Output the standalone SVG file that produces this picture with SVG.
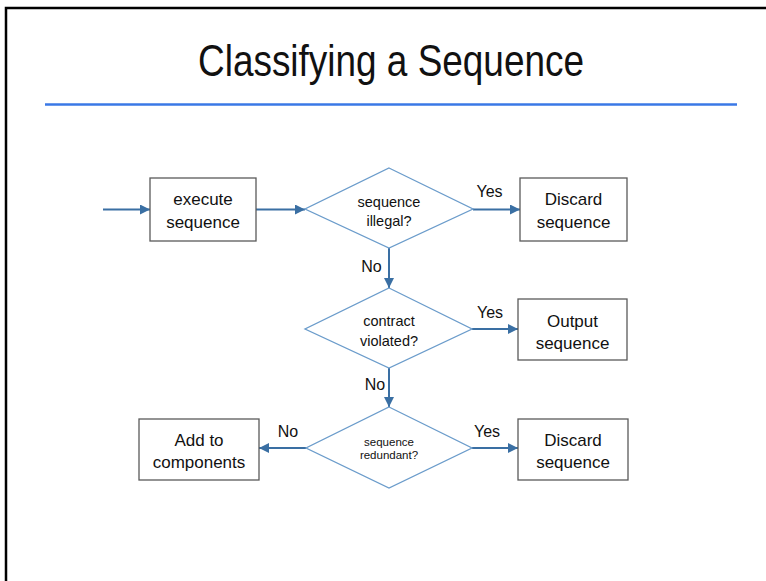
<svg xmlns="http://www.w3.org/2000/svg" width="766" height="581" viewBox="0 0 766 581">
<defs>
<style>
.box{fill:#fff;stroke:#5a5a5a;stroke-width:1.3}
.dia{fill:#fff;stroke:#6b9ccb;stroke-width:1.3}
.t{font-family:"Liberation Sans",Arial,sans-serif;fill:#111;text-anchor:middle}
.bt{font-size:17px}
.dt{font-size:14.5px}
.st{font-size:11.5px}
.lbl{font-family:"Liberation Sans",Arial,sans-serif;font-size:16px;fill:#111;text-anchor:middle}
.con{stroke:#3a6fa3;stroke-width:2;fill:none;marker-end:url(#ah)}
</style>
<marker id="ah" viewBox="0 0 10 10" refX="10" refY="5" markerUnits="userSpaceOnUse" markerWidth="11" markerHeight="10" orient="auto">
<path d="M0,0 L10,5 L0,10 z" fill="#3a6fa3"/>
</marker>
</defs>
<rect x="0" y="0" width="766" height="581" fill="#fff"/>
<rect x="6" y="8" width="800" height="620" fill="none" stroke="#000" stroke-width="2.5"/>
<text x="391" y="76" font-family="Liberation Sans,Arial,sans-serif" font-size="44" fill="#111" text-anchor="middle" textLength="386" lengthAdjust="spacingAndGlyphs">Classifying a Sequence</text>
<line x1="45" y1="104.5" x2="737" y2="104.5" stroke="#3a78e6" stroke-width="2.5"/>

<g id="connectors">
<line class="con" x1="103" y1="209.5" x2="150" y2="209.5"/>
<line class="con" x1="256" y1="209.5" x2="305" y2="209.5"/>
<line class="con" x1="473" y1="209.5" x2="520" y2="209.5"/>
<line class="con" x1="389" y1="248" x2="389" y2="288"/>
<line class="con" x1="472" y1="329" x2="518" y2="329"/>
<line class="con" x1="389" y1="368" x2="389" y2="407"/>
<line class="con" x1="472" y1="448" x2="518" y2="448"/>
<line class="con" x1="306" y1="448" x2="259" y2="448"/>
<text class="lbl" x="489.5" y="197">Yes</text>
<text class="lbl" x="371.5" y="272">No</text>
<text class="lbl" x="490" y="318">Yes</text>
<text class="lbl" x="375" y="390">No</text>
<text class="lbl" x="487" y="437">Yes</text>
<text class="lbl" x="288" y="437">No</text>
</g>

<g id="execute">
<rect class="box" x="150" y="178" width="106" height="63"/>
<text class="t bt" x="203" y="205">execute</text>
<text class="t bt" x="203" y="228">sequence</text>
</g>

<g id="illegal">
<polygon class="dia" points="389,168 473,209 389,248 305,209"/>
<text class="t dt" x="389" y="206.5">sequence</text>
<text class="t dt" x="389" y="225.5">illegal?</text>
</g>

<g id="discard1">
<rect class="box" x="520" y="178" width="107" height="63"/>
<text class="t bt" x="573.5" y="205">Discard</text>
<text class="t bt" x="573.5" y="228">sequence</text>
</g>

<g id="contract">
<polygon class="dia" points="389,288 472,329 389,368 305,329"/>
<text class="t dt" x="389" y="325.5">contract</text>
<text class="t dt" x="389" y="345.5">violated?</text>
</g>

<g id="output">
<rect class="box" x="518" y="299" width="109" height="61"/>
<text class="t bt" x="572.5" y="327">Output</text>
<text class="t bt" x="572.5" y="349">sequence</text>
</g>

<g id="redundant">
<polygon class="dia" points="389,407 472,448 389,488 306,448"/>
<text class="t st" x="389" y="445.5">sequence</text>
<text class="t st" x="389" y="459">redundant?</text>
</g>

<g id="add">
<rect class="box" x="139" y="419" width="120" height="61"/>
<text class="t bt" x="199" y="445.5">Add to</text>
<text class="t bt" x="199" y="467.5">components</text>
</g>

<g id="discard2">
<rect class="box" x="518" y="419" width="110" height="61"/>
<text class="t bt" x="573" y="445.5">Discard</text>
<text class="t bt" x="573" y="467.5">sequence</text>
</g>
</svg>
